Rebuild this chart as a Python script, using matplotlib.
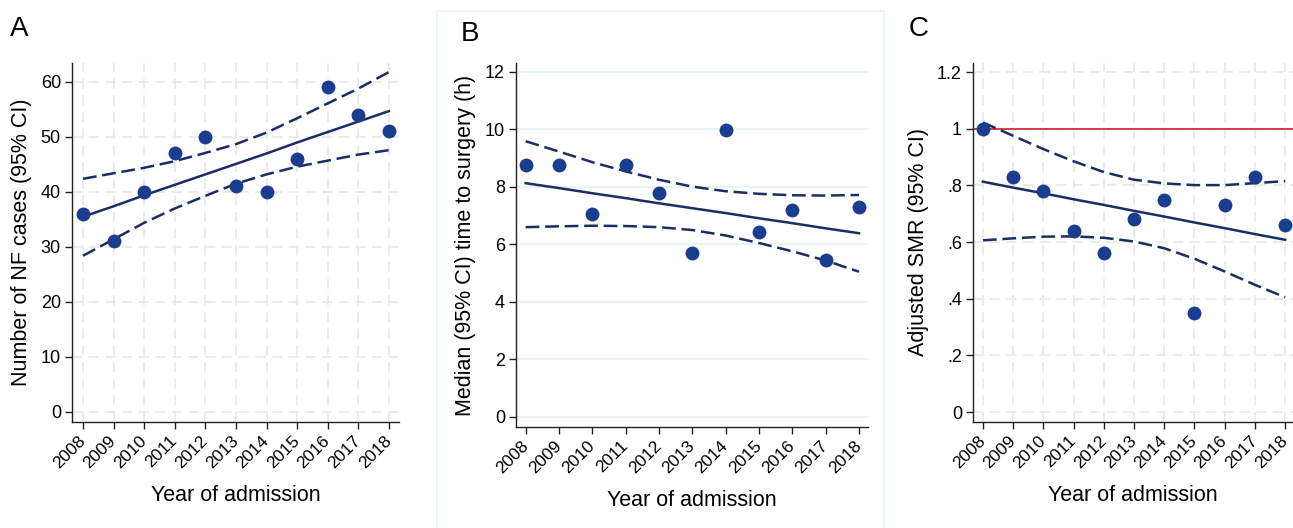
#!/usr/bin/env python3
"""
Trends by year of admission: NF cases, time to surgery, adjusted SMR.
"""

import matplotlib
matplotlib.use('Agg')
import matplotlib.pyplot as plt
from matplotlib.patches import Rectangle
from matplotlib.ticker import FixedLocator, FixedFormatter

plt.rcParams['font.family'] = ['Liberation Sans', 'DejaVu Sans']

years = [2008, 2009, 2010, 2011, 2012, 2013, 2014, 2015, 2016, 2017, 2018]
year_labels = [str(y) for y in years]

# Panel A - number of NF cases
cases = [36, 31, 40, 47, 50, 41, 40, 46, 59, 54, 51]
cases_fit = [35.5, 37.4, 39.4, 41.3, 43.2, 45.1, 47.0, 49.0, 50.9, 52.8, 54.7]
cases_hi = [42.4, 43.4, 44.4, 45.6, 47.1, 48.7, 50.8, 53.4, 56.1, 58.8, 61.8]
cases_lo = [28.4, 31.4, 34.4, 37.0, 39.3, 41.5, 43.2, 44.6, 45.7, 46.8, 47.6]

# Panel B - median time to surgery (h)
surgery = [8.75, 8.77, 7.07, 8.75, 7.78, 5.71, 9.99, 6.42, 7.20, 5.47, 7.29]
surgery_fit = [8.13, 7.96, 7.78, 7.61, 7.43, 7.26, 7.09, 6.91, 6.74, 6.56, 6.39]
surgery_hi = [9.59, 9.23, 8.86, 8.54, 8.25, 8.01, 7.85, 7.76, 7.71, 7.70, 7.72]
surgery_lo = [6.60, 6.63, 6.65, 6.64, 6.60, 6.50, 6.31, 6.05, 5.76, 5.44, 5.05]

# Panel C - adjusted SMR
smr = [1.00, 0.83, 0.78, 0.64, 0.56, 0.68, 0.75, 0.35, 0.73, 0.83, 0.66]
smr_fit = [0.813, 0.792, 0.772, 0.751, 0.731, 0.710, 0.690, 0.669, 0.649, 0.628, 0.608]
smr_hi = [1.022, 0.975, 0.928, 0.885, 0.847, 0.820, 0.807, 0.801, 0.801, 0.808, 0.815]
smr_lo = [0.606, 0.613, 0.619, 0.620, 0.615, 0.602, 0.578, 0.541, 0.496, 0.449, 0.405]
smr_ref = 1.0

a_ticks = [0, 10, 20, 30, 40, 50, 60]
b_ticks = [0, 2, 4, 6, 8, 10, 12]
c_ticks = [0, 0.2, 0.4, 0.6, 0.8, 1.0, 1.2]
c_tick_labels = ['0', '.2', '.4', '.6', '.8', '1', '1.2']

DOT = '#1b3d8f'
LINE = '#1b2d62'
W, H = 1293, 528


def px_axes(fig, left, right, top, bottom):
    """Add axes from pixel box (top-left origin)."""
    return fig.add_axes([left / W, 1 - bottom / H, (right - left) / W, (bottom - top) / H])


def draw_panel(ax, vals, fit, hi, lo, yticks, ylim, xlim, ylabel, grid_style):
    ax.set_xlim(*xlim)
    ax.set_ylim(*ylim)
    for side in ['top', 'right']:
        ax.spines[side].set_visible(False)
    for side in ['left', 'bottom']:
        ax.spines[side].set_color('#222222')
        ax.spines[side].set_linewidth(1.0)

    if grid_style == 'dashed':
        for y in yticks:
            ax.axhline(y, color='#e4e9e9', lw=1.2, ls=(0, (6, 4)), zorder=0)
        for x in years:
            ax.axvline(x, color='#e4e9e9', lw=1.2, ls=(0, (6, 4)), zorder=0)
    else:
        for y in yticks:
            ax.axhline(y, color='#e6f4f3', lw=1.5, zorder=0)

    ax.plot(years, hi, color=LINE, lw=1.8, ls=(0, (5.5, 2.3)), zorder=2)
    ax.plot(years, lo, color=LINE, lw=1.8, ls=(0, (5.5, 2.3)), zorder=2)
    ax.plot(years, fit, color=LINE, lw=1.8, zorder=2)
    ax.scatter(years, vals, s=100, color=DOT, zorder=3, linewidths=0)

    ax.xaxis.set_major_locator(FixedLocator(years))
    ax.set_xticklabels(year_labels, rotation=45, ha='right', va='center',
                       rotation_mode='anchor')
    ax.yaxis.set_major_locator(FixedLocator(yticks))
    ax.tick_params(axis='both', direction='out', length=5, width=1.0,
                   color='#222222')
    ax.tick_params(axis='x', labelsize=12.5, pad=7)
    ax.tick_params(axis='y', labelsize=13, pad=3)
    ax.set_xlabel('Year of admission', fontsize=15.5, labelpad=10)
    ax.set_ylabel(ylabel, fontsize=15.5, labelpad=6)
    ax.set_facecolor('none')


fig = plt.figure(figsize=(W / 100, H / 100), dpi=100)

# light frame around panel B
fig.patches.append(Rectangle((437 / W, -0.01), (884 - 437) / W, 1 - 11 / H + 0.01,
                             transform=fig.transFigure, fill=False,
                             edgecolor='#e6f4f3', lw=1.2, zorder=0))

axA = px_axes(fig, 72, 399, 63, 422)
draw_panel(axA, cases, cases_fit, cases_hi, cases_lo, a_ticks,
           (-1.82, 63.45), (2007.64, 2018.33), 'Number of NF cases (95% CI)', 'dashed')

axB = px_axes(fig, 516, 868, 63, 427)
draw_panel(axB, surgery, surgery_fit, surgery_hi, surgery_lo, b_ticks,
           (-0.35, 12.31), (2007.71, 2018.27), 'Median (95% CI) time to surgery (h)', 'solid')

axC = px_axes(fig, 973, 1293, 63, 422)
draw_panel(axC, smr, smr_fit, smr_hi, smr_lo, c_ticks,
           (-0.0353, 1.232), (2007.67, 2018.26), 'Adjusted SMR (95% CI)', 'dashed')
axC.yaxis.set_major_formatter(FixedFormatter(c_tick_labels))
axC.axhline(smr_ref, color='#c8202a', lw=1.2, zorder=1)

# panel letters
fig.text(10 / W, 1 - 36 / H, 'A', fontsize=20)
fig.text(461 / W, 1 - 41 / H, 'B', fontsize=20)
fig.text(909 / W, 1 - 36 / H, 'C', fontsize=20)

fig.savefig('out.png', dpi=100)
